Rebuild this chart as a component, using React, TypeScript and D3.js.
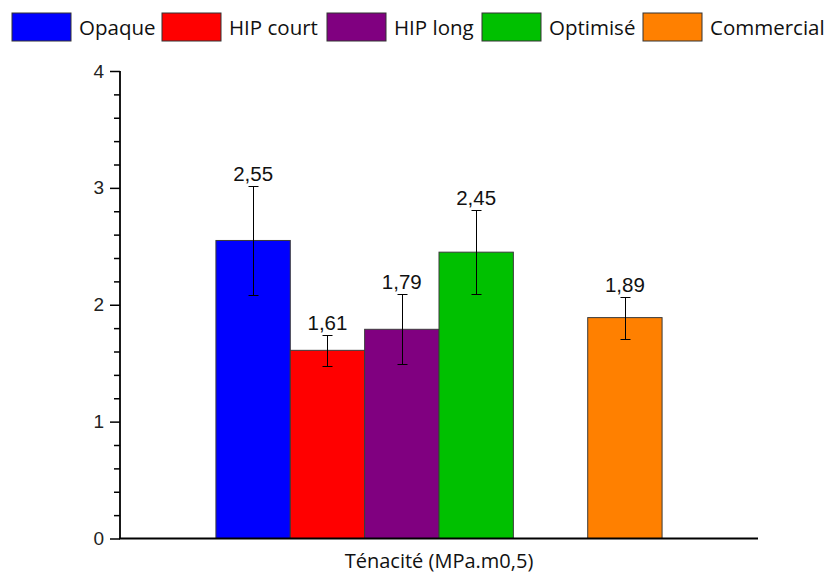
import React, { useRef, useEffect } from "react";
import * as d3 from "d3";

// Bars (Ténacité)
const categories = ["Opaque", "HIP court", "HIP long", "Optimisé", "Commercial"];
const values = [2.55, 1.61, 1.79, 2.45, 1.89];
const errors = [0.47, 0.13, 0.3, 0.36, 0.18];
const labels = ["2,55", "1,61", "1,79", "2,45", "1,89"];
const colors = ["#0000ff", "#ff0000", "#800080", "#00c000", "#ff8000"];
// band slots: an empty slot sits between Optimisé and Commercial
const slots = ["Opaque", "HIP court", "HIP long", "Optimisé", "__gap", "Commercial"];
const majorTicks = [0, 1, 2, 3, 4];
const axisTitle = "Ténacité (MPa.m0,5)";

const W = 829;
const H = 577;

const App: React.FC = () => {
  const svgRef = useRef<SVGSVGElement | null>(null);

  useEffect(() => {
    document.body.style.margin = "0";
    if (!svgRef.current) return;
    const svg = d3.select(svgRef.current);
    svg.selectAll("*").remove();

    const plot = { left: 120, right: 758, top: 71, bottom: 538.5 };

    const x = d3
      .scaleBand<string>()
      .domain(slots)
      .range([plot.left, plot.right])
      .paddingInner(0)
      .paddingOuter(1.29);

    const y = d3.scaleLinear().domain([0, 4]).range([plot.bottom, plot.top]);

    const minorTicks = d3
      .range(0, 4.001, 0.2)
      .filter((t) => Math.abs(t - Math.round(t)) > 1e-6);

    // bars
    const data = categories.map((c, i) => ({
      cat: c,
      value: values[i],
      err: errors[i],
      label: labels[i],
      color: colors[i],
    }));

    svg
      .append("g")
      .selectAll("rect")
      .data(data)
      .join("rect")
      .attr("x", (d) => x(d.cat)!)
      .attr("y", (d) => y(d.value))
      .attr("width", x.bandwidth())
      .attr("height", (d) => y(0) - y(d.value))
      .attr("fill", (d) => d.color)
      .attr("stroke", "#3a3a3a")
      .attr("stroke-width", 1);

    // error bars
    const eg = svg.append("g").attr("stroke", "#000").attr("stroke-width", 1);
    data.forEach((d) => {
      const cx = Math.round(x(d.cat)! + x.bandwidth() / 2) + 0.5;
      const yt = Math.round(y(d.value + d.err)) + 0.5;
      const yb = Math.round(y(d.value - d.err)) + 0.5;
      eg.append("line").attr("x1", cx).attr("x2", cx).attr("y1", yt).attr("y2", yb);
      eg.append("line").attr("x1", cx - 5).attr("x2", cx + 5).attr("y1", yt).attr("y2", yt);
      eg.append("line").attr("x1", cx - 5).attr("x2", cx + 5).attr("y1", yb).attr("y2", yb);
    });

    // value labels
    svg
      .append("g")
      .selectAll("text")
      .data(data)
      .join("text")
      .attr("x", (d) => x(d.cat)! + x.bandwidth() / 2)
      .attr("y", (d) => y(d.value + d.err) - 5)
      .attr("text-anchor", "middle")
      .style("font-family", "'Liberation Sans', Arial, sans-serif")
      .style("font-size", "20.5px")
      .style("fill", "#111")
      .text((d) => d.label);

    // y axis: major + minor ticks
    const yMajor = svg
      .append("g")
      .attr("transform", `translate(${plot.left},0)`)
      .call(
        d3
          .axisLeft(y)
          .tickValues(majorTicks)
          .tickSize(10)
          .tickPadding(6)
          .tickFormat((d) => String(d))
      );
    yMajor.select(".domain").remove();
    yMajor.selectAll("line").attr("stroke", "#000").attr("stroke-width", 1.5);
    yMajor
      .selectAll("text")
      .style("font-family", "'Liberation Sans', Arial, sans-serif")
      .style("font-size", "19px")
      .style("fill", "#222");

    const yMinor = svg
      .append("g")
      .attr("transform", `translate(${plot.left},0)`)
      .call(d3.axisLeft(y).tickValues(minorTicks).tickSize(6).tickFormat(() => ""));
    yMinor.select(".domain").remove();
    yMinor.selectAll("line").attr("stroke", "#000").attr("stroke-width", 1.5);

    // axis lines
    svg
      .append("line")
      .attr("x1", plot.left)
      .attr("x2", plot.left)
      .attr("y1", plot.top)
      .attr("y2", plot.bottom)
      .attr("stroke", "#000")
      .attr("stroke-width", 1.8);
    svg
      .append("line")
      .attr("x1", plot.left - 1)
      .attr("x2", plot.right)
      .attr("y1", plot.bottom)
      .attr("y2", plot.bottom)
      .attr("stroke", "#000")
      .attr("stroke-width", 2);

    // x axis title
    svg
      .append("text")
      .attr("x", (plot.left + plot.right) / 2)
      .attr("y", 568)
      .attr("text-anchor", "middle")
      .style("font-family", "'Open Sans', sans-serif")
      .style("font-size", "20px")
      .style("fill", "#111")
      .text(axisTitle);

    // legend
    const legendX = [12, 162, 327, 482, 643];
    const lg = svg.append("g");
    data.forEach((d, i) => {
      const g = lg.append("g").attr("transform", `translate(${legendX[i]},13)`);
      g.append("rect")
        .attr("width", 59)
        .attr("height", 28)
        .attr("fill", d.color)
        .attr("stroke", "#333")
        .attr("stroke-width", 1);
      g.append("text")
        .attr("x", 67)
        .attr("y", 22)
        .style("font-family", "'Open Sans', sans-serif")
        .style("font-size", "20.5px")
        .style("fill", "#111")
        .text(d.cat);
    });
  }, []);

  return <svg ref={svgRef} width={W} height={H} style={{ display: "block" }} />;
};

export default App;
